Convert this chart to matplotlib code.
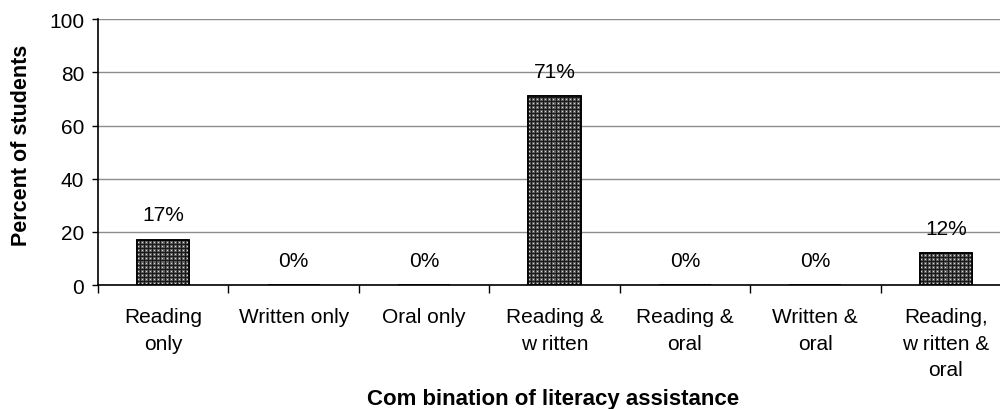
import matplotlib
matplotlib.use("Agg")
import matplotlib.pyplot as plt
import numpy as np

categories = ["Reading\nonly", "Written only", "Oral only", "Reading &\nw ritten",
              "Reading &\noral", "Written &\noral", "Reading,\nw ritten &\noral"]
percent = [17, 0, 0, 71, 0, 0, 12]
yticks = [0, 20, 40, 60, 80, 100]

plt.rcParams["font.family"] = ["Liberation Sans", "DejaVu Sans"]

fig = plt.figure(figsize=(10, 4.1), dpi=100)
ax = fig.add_axes([0.098, 0.302, 0.913, 0.649])
ax.set_xlim(-0.5, len(categories) - 0.5)
ax.set_ylim(0, 100)

x = list(range(len(categories)))
bars = ax.bar(x, percent, width=0.4, color="#1a1a1a", edgecolor="black",
              linewidth=1.2, zorder=2)


def dot_fill(width_px, height_px, period_x=4, period_y=4):
    """Dark fill with a regular grid of light dots, one pixel per array cell."""
    img = np.full((height_px, width_px, 3), 0.10)
    yy, xx = np.mgrid[0:height_px, 0:width_px]
    halo = ((xx % period_x) < 3) & ((yy % period_y) < 3)
    core = ((xx % period_x) >= 1) & ((xx % period_x) < 2) & \
           ((yy % period_y) >= 1) & ((yy % period_y) < 2)
    img[halo] = 0.38
    img[core] = 0.85
    return img[::-1]


for rect in bars:
    if rect.get_height() <= 0:
        continue
    x0, y0 = rect.get_x(), rect.get_y()
    x1, y1 = x0 + rect.get_width(), y0 + rect.get_height()
    (px0, py0), (px1, py1) = ax.transData.transform([(x0, y0), (x1, y1)])
    w_px = max(int(round(px1 - px0)), 1)
    h_px = max(int(round(py1 - py0)), 1)
    im = ax.imshow(dot_fill(w_px, h_px), extent=(x0, x1, y0, y1),
                   interpolation="nearest", aspect="auto", zorder=2.5)
    im.set_clip_path(rect)
    ax.add_patch(plt.Rectangle((x0, y0), x1 - x0, y1 - y0, fill=False,
                               edgecolor="black", linewidth=1.2, zorder=3))

ax.set_xlim(-0.5, len(categories) - 0.5)
ax.set_ylim(0, 100)

for xi, v in zip(x, percent):
    ax.annotate(f"{v}%", (xi, v), xytext=(0, 18), textcoords="offset points",
                ha="center", va="center", fontsize=15)

ax.set_yticks(yticks)
ax.tick_params(axis="y", labelsize=15, length=4, width=1, pad=6)
ax.yaxis.grid(True, color="#8c8c8c", linewidth=1)
ax.set_axisbelow(True)

ax.set_xticks([i + 0.5 for i in range(-1, len(categories))], minor=False)
ax.set_xticklabels([])
ax.set_xticks(x, minor=True)
ax.set_xticklabels(categories, minor=True, fontsize=15, linespacing=1.5)
ax.tick_params(axis="x", which="major", length=6, width=1, direction="out")
ax.tick_params(axis="x", which="minor", length=0, pad=16)

for s in ("top", "right"):
    ax.spines[s].set_visible(False)
for s in ("left", "bottom"):
    ax.spines[s].set_color("black")
    ax.spines[s].set_linewidth(1.2)

ax.set_ylabel("Percent of students", fontsize=15.5, fontweight="bold")
ax.yaxis.set_label_coords(-0.072, 0.528)
ax.set_xlabel("Com bination of literacy assistance", fontsize=16, fontweight="bold")
ax.xaxis.set_label_coords(0.498, -0.385)

fig.savefig("out.png", dpi=100)
